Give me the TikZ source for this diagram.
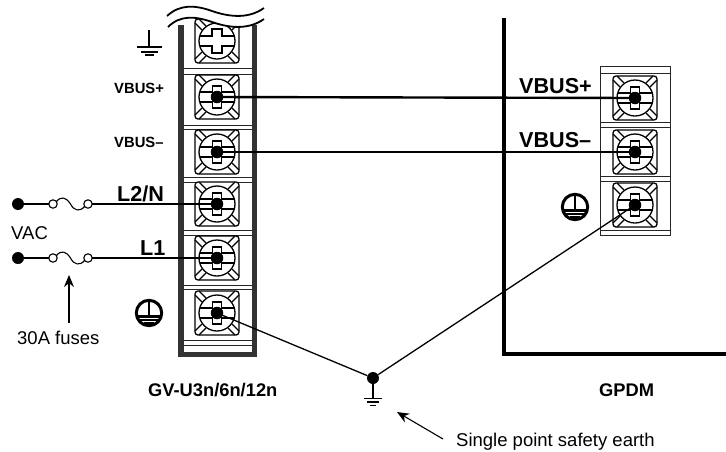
\documentclass[tikz,border=0pt]{standalone}
\usepackage{fontspec}
\setmainfont{Liberation Sans}
\usetikzlibrary{arrows.meta}
\tikzset{
 x=1pt,y=-1pt,
 wire/.style={line width=2.4pt,black},
 thin wire/.style={line width=1.3pt,black},
 sep/.style={line width=1pt,black!85},
 dot/.style={circle,fill=black,inner sep=0pt,minimum size=#1},
 pointer/.style={line width=1.1pt,-{Stealth[length=12pt,width=10pt]}},
 small label/.style={font=\fontsize{14.8}{16}\selectfont\bfseries,inner sep=0pt},
 big label/.style={font=\fontsize{21.6}{24}\selectfont\bfseries,inner sep=0pt},
 plain label/.style={font=\fontsize{18.5}{20}\selectfont,inner sep=0pt},
 cap label/.style={font=\fontsize{18.3}{20}\selectfont\bfseries,inner sep=0pt},
 terminal/.pic={
  \draw[line width=1.3pt,rounded corners=3pt,fill=white] (-22,-22) rectangle (22,22);
  \foreach \sx/\sy in {1/1,1/-1,-1/1,-1/-1}{
    \draw[line width=1.1pt] (\sx*11,\sy*15)--(\sx*18,\sy*22);
    \draw[line width=1.1pt] (\sx*15,\sy*11)--(\sx*22,\sy*18);
  }
  \draw[line width=1.3pt,fill=white] (0,0) circle (18);
  \draw[line width=1.1pt] (-17.5,-5)--(17.5,-5) (-17.5,5)--(17.5,5);
  \draw[line width=1.1pt,fill=white] (-4.2,-11) rectangle (4.2,11);
 },
 crossterminal/.pic={
  \draw[line width=1.3pt,rounded corners=3pt,fill=white] (-22,-22) rectangle (22,22);
  \foreach \sx/\sy in {1/1,1/-1,-1/1,-1/-1}{
    \draw[line width=1.1pt] (\sx*11,\sy*15)--(\sx*18,\sy*22);
    \draw[line width=1.1pt] (\sx*15,\sy*11)--(\sx*22,\sy*18);
  }
  \draw[line width=1.3pt,fill=white] (0,0) circle (18);
  \draw[line width=1.1pt] (-17.5,-5)--(-5,-5)--(-5,-12)--(5,-12)--(5,-5)--(17.5,-5)
   (17.5,5)--(5,5)--(5,12)--(-5,12)--(-5,5)--(-17.5,5);
 },
 peground/.pic={
  \draw[line width=3pt,fill=white] (0,0) circle (12.7);
  \draw[line width=2.4pt] (0,-12)--(0,4);
  \draw[line width=2.8pt] (-12,3.5)--(12,3.5);
  \draw[line width=2.6pt] (-9,7)--(9,7);
  \draw[line width=1.8pt] (-5,9.8)--(5,9.8);
 },
 fuse/.pic={
  \draw[line width=1.1pt] (0,0) circle (4.2);
  \draw[line width=1.1pt] (35,0) circle (4.2);
  \draw[line width=1.1pt] (3.5,-2.5) .. controls (8,-8) and (13,-7) .. (17.5,0) .. controls (21,7) and (27,8) .. (31.5,2.5);
 }
}
\begin{document}
\begin{tikzpicture}
\useasboundingbox (0,0) rectangle (726,451);
\fill[white] (0,0) rectangle (726,451);

% left strip
\fill[black!80] (178,25) rectangle (183.5,357);
\fill[black!80] (252,25) rectangle (257,357);
\fill[black!80] (178,352) rectangle (257,357);
\foreach \y in {68,74,125,129,177,182,230,235,285,289,340,345}
  \draw[sep] (183,\y)--(252,\y);

% terminals
\pic at (217,41) {crossterminal};
\foreach \n/\y in {a/97,b/152,c/204,d/258,e/313}{
  \pic at (217,\y) {terminal};
  \coordinate (L\n) at (217,\y);
}
% break
\fill[white] (167,16) .. controls (180,4) and (195,5) .. (212,11) .. controls (232,18) and (250,18) .. (264,8)
 -- (264,19) .. controls (250,29) and (232,29) .. (212,22) .. controls (195,16) and (180,15) .. (168,27) -- cycle;
\draw[line width=1.8pt] (167,16) .. controls (180,4) and (195,5) .. (212,11) .. controls (232,18) and (250,18) .. (264,8);
\draw[line width=1.8pt] (168,27) .. controls (180,15) and (195,16) .. (212,22) .. controls (232,29) and (250,29) .. (264,19);

% right strip
\draw[sep] (600,66) rectangle (670,235);
\foreach \y in {73,122,127,176,181,230}
  \draw[sep] (600,\y)--(670,\y);
\foreach \n/\y in {a/98,b/152,c/205}{
  \pic at (635,\y) {terminal};
  \coordinate (R\n) at (635,\y);
}
% GPDM wall
\draw[line width=3.6pt,line cap=butt] (504,18)--(504,354)--(726,354);

% wires
\draw[wire] (La)--(Ra);
\draw[wire] (Lb)--(Rb);
\coordinate (in2) at (18,204);
\coordinate (in1) at (18,258);
\coordinate (f2l) at (49,204);
\coordinate (f2r) at (92,204);
\coordinate (f1l) at (49,258);
\coordinate (f1r) at (92,258);
\draw[thin wire] (in2)--(f2l) (f2r)--(Lc);
\draw[thin wire] (in1)--(f1l) (f1r)--(Ld);
\pic at (53,204) {fuse};
\pic at (53,258) {fuse};
\node[dot=12pt] at (in2) {};
\node[dot=12pt] at (in1) {};
\foreach \c in {La,Lb,Lc,Ld,Le,Ra,Rb,Rc}
  \node[dot=12.5pt] at (\c) {};

% earth
\node[dot=12pt] (E) at (373,378) {};
\draw[thin wire] (Le)--(E);
\draw[thin wire] (Rc)--(E);
\coordinate (Eb) at (373,398);
\draw[thin wire] (E)--(Eb);
\draw[line width=1.1pt] (364,398.5)--(382,398.5) (367,402)--(379,402) (370,405.5)--(376,405.5);

% top-left ground
\draw[line width=2.4pt] (149,30)--(149,47);
\draw[line width=2.6pt] (137,47)--(162,47);
\draw[line width=2pt] (141,51.5)--(158,51.5);
\draw[line width=2pt] (145,55)--(154,55);

\pic at (149,313) {peground};
\pic at (575,207) {peground};

% labels
\node[small label,anchor=base west] (t1) at (114,93.5) {VBUS+};
\node[small label,anchor=base west] (t2) at (114,147) {VBUS–};
\node[big label,anchor=base west] (t3) at (519,93) {VBUS+};
\node[big label,anchor=base west] (t4) at (519,147) {VBUS–};
\node[big label,anchor=base west] (t5) at (117,201) {L2/N};
\node[big label,anchor=base west] (t6) at (140,255) {L1};
\node[plain label,anchor=base west] (t7) at (11,239) {VAC};
\node[plain label,anchor=base west] (t8) at (17,344) {30A fuses};
\node[cap label,anchor=base west] (t9) at (148,396) {GV-U3n/6n/12n};
\node[cap label,anchor=base west] (t10) at (599,396) {GPDM};
\node[plain label,anchor=base west] (t11) at (456,446) {Single point safety earth};

% arrows
\coordinate (a1) at (69,323); \coordinate (a2) at (69,275);
\draw[pointer] (a1)--(a2);
\coordinate (b1) at (443,439); \coordinate (b2) at (397,412);
\draw[pointer] (b1)--(b2);
\end{tikzpicture}
\end{document}
